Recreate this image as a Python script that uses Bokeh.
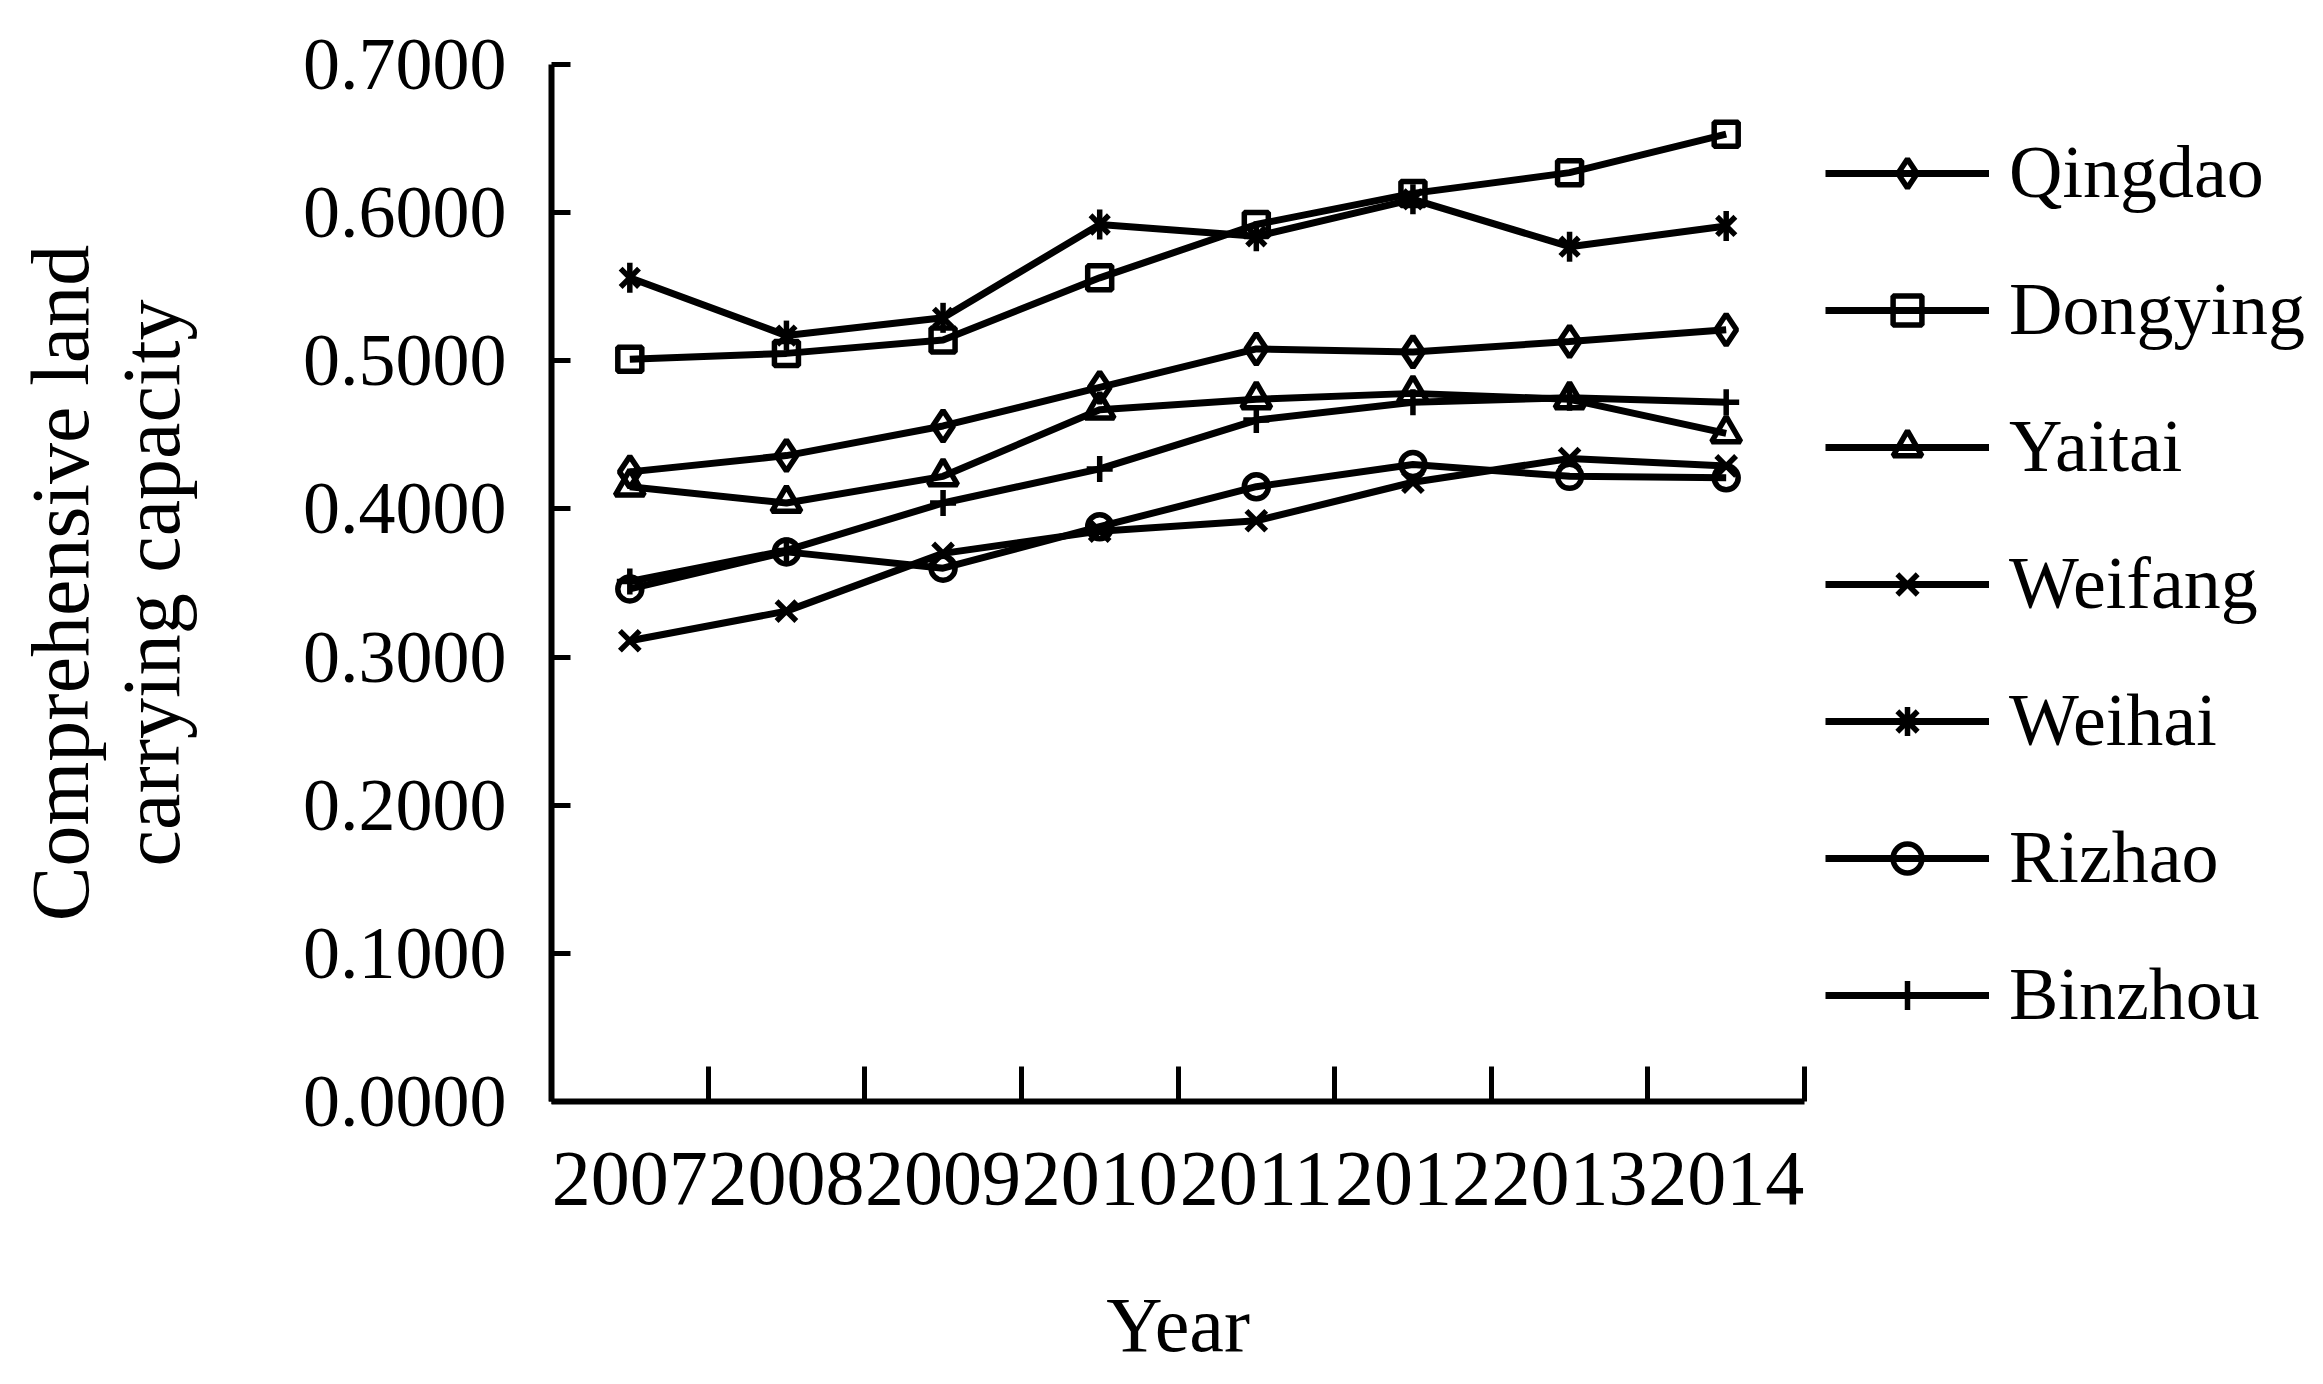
import math
from bokeh.plotting import figure
from bokeh.layouts import row
from bokeh.models import Legend, LegendItem, FixedTicker, NumeralTickFormatter, Range1d
from bokeh.embed import file_html
from bokeh.resources import INLINE

years = ["2007", "2008", "2009", "2010", "2011", "2012", "2013", "2014"]
y_ticks = [0.0, 0.1, 0.2, 0.3, 0.4, 0.5, 0.6, 0.7]

qingdao = [0.425, 0.436, 0.456, 0.482, 0.508, 0.506, 0.513, 0.521]
dongying = [0.501, 0.505, 0.514, 0.556, 0.592, 0.613, 0.627, 0.653]
yaitai = [0.415, 0.404, 0.422, 0.467, 0.474, 0.478, 0.474, 0.451]
weifang = [0.311, 0.331, 0.370, 0.385, 0.392, 0.418, 0.434, 0.429]
weihai = [0.556, 0.517, 0.529, 0.592, 0.584, 0.609, 0.577, 0.591]
rizhao = [0.346, 0.371, 0.360, 0.388, 0.415, 0.430, 0.422, 0.421]
binzhou = [0.351, 0.372, 0.404, 0.427, 0.460, 0.472, 0.475, 0.472]

FONT = "Liberation Serif"
H = 1376

xs = [i + 0.5 for i in range(len(years))]
bounds = list(range(len(years) + 1))

p = figure(width=1814, height=H, output_backend="svg", toolbar_location=None,
           x_range=Range1d(0, len(years)), y_range=Range1d(0, 0.7),
           min_border_left=551, min_border_right=10, min_border_top=64,
           min_border_bottom=H - 1101)
p.outline_line_color = None
p.xgrid.visible = False
p.ygrid.visible = False
p.background_fill_color = "white"
p.border_fill_color = "white"

# x axis
xa = p.xaxis[0]
xa.ticker = FixedTicker(ticks=xs, minor_ticks=bounds)
xa.major_label_overrides = {x: y for x, y in zip(xs, years)}
xa.major_tick_in = 0
xa.major_tick_out = 0
xa.minor_tick_in = 35
xa.minor_tick_out = 0
xa.minor_tick_line_width = 5
xa.minor_tick_line_color = "black"
xa.axis_line_width = 6
xa.axis_line_color = "black"
xa.major_label_text_font = FONT
xa.major_label_text_font_size = "78px"
xa.major_label_text_color = "black"
xa.major_label_standoff = 51
xa.axis_label = "Year"
xa.axis_label_text_font = FONT
xa.axis_label_text_font_size = "78px"
xa.axis_label_text_font_style = "normal"
xa.axis_label_text_color = "black"
xa.axis_label_standoff = 74

# y axis
ya = p.yaxis[0]
ya.ticker = FixedTicker(ticks=y_ticks, minor_ticks=[])
ya.formatter = NumeralTickFormatter(format="0.0000")
ya.major_tick_in = 19
ya.major_tick_out = 0
ya.major_tick_line_width = 5
ya.major_tick_line_color = "black"
ya.minor_tick_in = 0
ya.minor_tick_out = 0
ya.axis_line_width = 6
ya.axis_line_color = "black"
ya.major_label_text_font = FONT
ya.major_label_text_font_size = "74px"
ya.major_label_text_color = "black"
ya.major_label_standoff = 45
ya.axis_label = "Comprehensive land\ncarrying capacity"
ya.axis_label_text_font = FONT
ya.axis_label_text_font_size = "82px"
ya.axis_label_text_font_style = "normal"
ya.axis_label_text_color = "black"
ya.axis_label_text_line_height = 1.0
ya.axis_label_standoff = 103

LW = 7
MLW = 5.5
# (name, values, plot markers, legend markers)
series = [
    ("Qingdao", qingdao, [("diamond", 31, 0)], [("diamond", 31, 0)]),
    ("Dongying", dongying, [("square", 24, 0)], [("square", 24, 0)]),
    ("Yaitai", yaitai, [("triangle", 29, 0)], [("triangle", 29, 0)]),
    ("Weifang", weifang, [("x", 28, 0)], [("x", 28, 0)]),
    ("Weihai", weihai, [("x", 26, 0), ("dash", 30, math.pi / 2)], [("asterisk", 28, 0)]),
    ("Rizhao", rizhao, [("circle", 24, 0)], [("circle", 24, 0)]),
    ("Binzhou", binzhou, [("cross", 26, 0)], [("cross", 26, 0)]),
]

# legend panel: separate figure (frames are aligned by the row layout)
p2 = figure(width=501, height=H, output_backend="svg", toolbar_location=None,
            x_range=Range1d(-20, -19), y_range=Range1d(0, 0.7),
            x_axis_type=None, y_axis_type=None,
            min_border_left=0, min_border_right=0, min_border_top=0, min_border_bottom=0)
p2.outline_line_color = None
p2.xgrid.visible = False
p2.ygrid.visible = False
p2.background_fill_color = "white"
p2.border_fill_color = "white"

items = []
for name, vals, markers, lmarkers in series:
    p.line(xs, vals, line_color="black", line_width=LW)
    for mk, sz, ang in markers:
        p.scatter(xs, vals, marker=mk, size=sz, angle=ang,
                  line_color="black", line_width=MLW, fill_color=None)
    rs = [p2.line(xs, vals, line_color="black", line_width=LW)]
    for mk, sz, ang in lmarkers:
        rs.append(p2.scatter(xs, vals, marker=mk, size=sz, angle=ang,
                             line_color="black", line_width=MLW, fill_color=None))
    items.append(LegendItem(label=name, renderers=rs))

legend = Legend(items=items, location=(11, 64))
legend.label_text_font = FONT
legend.label_text_font_size = "74px"
legend.label_text_color = "black"
legend.glyph_width = 164
legend.glyph_height = 72
legend.label_height = 72
legend.label_standoff = 20
legend.spacing = 52
legend.padding = 0
legend.margin = 0
legend.border_line_color = None
legend.background_fill_alpha = 0
p2.add_layout(legend)

layout = row(p, p2, spacing=0)
open("out.html", "w").write(file_html(layout, INLINE))
